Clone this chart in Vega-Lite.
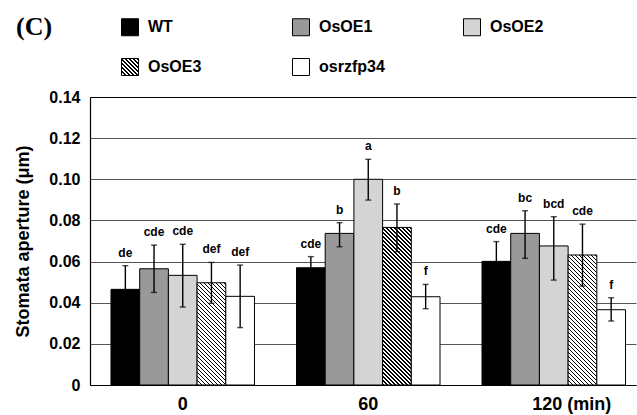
{
  "$schema": "https://vega.github.io/schema/vega-lite/v6.json",
  "width": 546,
  "height": 288,
  "autosize": "none",
  "padding": {"left": 90, "top": 97, "right": 1, "bottom": 30},
  "title": {"text": "(C)", "anchor": "start", "frame": "group", "font": "Liberation Serif", "fontSize": 26, "fontWeight": "bold", "color": "#000", "dx": -74, "offset": -22},
  "params": [
    {"name": "hatch", "value": [
      {"offset":0,"color":"#000"},{"offset":0.009,"color":"#000"},{"offset":0.009,"color":"#fff"},{"offset":0.02,"color":"#fff"},
      {"offset":0.02,"color":"#000"},{"offset":0.029,"color":"#000"},{"offset":0.029,"color":"#fff"},{"offset":0.04,"color":"#fff"},
      {"offset":0.04,"color":"#000"},{"offset":0.049,"color":"#000"},{"offset":0.049,"color":"#fff"},{"offset":0.06,"color":"#fff"},
      {"offset":0.06,"color":"#000"},{"offset":0.069,"color":"#000"},{"offset":0.069,"color":"#fff"},{"offset":0.08,"color":"#fff"},
      {"offset":0.08,"color":"#000"},{"offset":0.089,"color":"#000"},{"offset":0.089,"color":"#fff"},{"offset":0.1,"color":"#fff"},
      {"offset":0.1,"color":"#000"},{"offset":0.109,"color":"#000"},{"offset":0.109,"color":"#fff"},{"offset":0.12,"color":"#fff"},
      {"offset":0.12,"color":"#000"},{"offset":0.129,"color":"#000"},{"offset":0.129,"color":"#fff"},{"offset":0.14,"color":"#fff"},
      {"offset":0.14,"color":"#000"},{"offset":0.149,"color":"#000"},{"offset":0.149,"color":"#fff"},{"offset":0.16,"color":"#fff"},
      {"offset":0.16,"color":"#000"},{"offset":0.169,"color":"#000"},{"offset":0.169,"color":"#fff"},{"offset":0.18,"color":"#fff"},
      {"offset":0.18,"color":"#000"},{"offset":0.189,"color":"#000"},{"offset":0.189,"color":"#fff"},{"offset":0.2,"color":"#fff"},
      {"offset":0.2,"color":"#000"},{"offset":0.209,"color":"#000"},{"offset":0.209,"color":"#fff"},{"offset":0.22,"color":"#fff"},
      {"offset":0.22,"color":"#000"},{"offset":0.229,"color":"#000"},{"offset":0.229,"color":"#fff"},{"offset":0.24,"color":"#fff"},
      {"offset":0.24,"color":"#000"},{"offset":0.249,"color":"#000"},{"offset":0.249,"color":"#fff"},{"offset":0.26,"color":"#fff"},
      {"offset":0.26,"color":"#000"},{"offset":0.269,"color":"#000"},{"offset":0.269,"color":"#fff"},{"offset":0.28,"color":"#fff"},
      {"offset":0.28,"color":"#000"},{"offset":0.289,"color":"#000"},{"offset":0.289,"color":"#fff"},{"offset":0.3,"color":"#fff"},
      {"offset":0.3,"color":"#000"},{"offset":0.309,"color":"#000"},{"offset":0.309,"color":"#fff"},{"offset":0.32,"color":"#fff"},
      {"offset":0.32,"color":"#000"},{"offset":0.329,"color":"#000"},{"offset":0.329,"color":"#fff"},{"offset":0.34,"color":"#fff"},
      {"offset":0.34,"color":"#000"},{"offset":0.349,"color":"#000"},{"offset":0.349,"color":"#fff"},{"offset":0.36,"color":"#fff"},
      {"offset":0.36,"color":"#000"},{"offset":0.369,"color":"#000"},{"offset":0.369,"color":"#fff"},{"offset":0.38,"color":"#fff"},
      {"offset":0.38,"color":"#000"},{"offset":0.389,"color":"#000"},{"offset":0.389,"color":"#fff"},{"offset":0.4,"color":"#fff"},
      {"offset":0.4,"color":"#000"},{"offset":0.409,"color":"#000"},{"offset":0.409,"color":"#fff"},{"offset":0.42,"color":"#fff"},
      {"offset":0.42,"color":"#000"},{"offset":0.429,"color":"#000"},{"offset":0.429,"color":"#fff"},{"offset":0.44,"color":"#fff"},
      {"offset":0.44,"color":"#000"},{"offset":0.449,"color":"#000"},{"offset":0.449,"color":"#fff"},{"offset":0.46,"color":"#fff"},
      {"offset":0.46,"color":"#000"},{"offset":0.469,"color":"#000"},{"offset":0.469,"color":"#fff"},{"offset":0.48,"color":"#fff"},
      {"offset":0.48,"color":"#000"},{"offset":0.489,"color":"#000"},{"offset":0.489,"color":"#fff"},{"offset":0.5,"color":"#fff"},
      {"offset":0.5,"color":"#000"},{"offset":0.509,"color":"#000"},{"offset":0.509,"color":"#fff"},{"offset":0.52,"color":"#fff"},
      {"offset":0.52,"color":"#000"},{"offset":0.529,"color":"#000"},{"offset":0.529,"color":"#fff"},{"offset":0.54,"color":"#fff"},
      {"offset":0.54,"color":"#000"},{"offset":0.549,"color":"#000"},{"offset":0.549,"color":"#fff"},{"offset":0.56,"color":"#fff"},
      {"offset":0.56,"color":"#000"},{"offset":0.569,"color":"#000"},{"offset":0.569,"color":"#fff"},{"offset":0.58,"color":"#fff"},
      {"offset":0.58,"color":"#000"},{"offset":0.589,"color":"#000"},{"offset":0.589,"color":"#fff"},{"offset":0.6,"color":"#fff"},
      {"offset":0.6,"color":"#000"},{"offset":0.609,"color":"#000"},{"offset":0.609,"color":"#fff"},{"offset":0.62,"color":"#fff"},
      {"offset":0.62,"color":"#000"},{"offset":0.629,"color":"#000"},{"offset":0.629,"color":"#fff"},{"offset":0.64,"color":"#fff"},
      {"offset":0.64,"color":"#000"},{"offset":0.649,"color":"#000"},{"offset":0.649,"color":"#fff"},{"offset":0.66,"color":"#fff"},
      {"offset":0.66,"color":"#000"},{"offset":0.669,"color":"#000"},{"offset":0.669,"color":"#fff"},{"offset":0.68,"color":"#fff"},
      {"offset":0.68,"color":"#000"},{"offset":0.689,"color":"#000"},{"offset":0.689,"color":"#fff"},{"offset":0.7,"color":"#fff"},
      {"offset":0.7,"color":"#000"},{"offset":0.709,"color":"#000"},{"offset":0.709,"color":"#fff"},{"offset":0.72,"color":"#fff"},
      {"offset":0.72,"color":"#000"},{"offset":0.729,"color":"#000"},{"offset":0.729,"color":"#fff"},{"offset":0.74,"color":"#fff"},
      {"offset":0.74,"color":"#000"},{"offset":0.749,"color":"#000"},{"offset":0.749,"color":"#fff"},{"offset":0.76,"color":"#fff"},
      {"offset":0.76,"color":"#000"},{"offset":0.769,"color":"#000"},{"offset":0.769,"color":"#fff"},{"offset":0.78,"color":"#fff"},
      {"offset":0.78,"color":"#000"},{"offset":0.789,"color":"#000"},{"offset":0.789,"color":"#fff"},{"offset":0.8,"color":"#fff"},
      {"offset":0.8,"color":"#000"},{"offset":0.809,"color":"#000"},{"offset":0.809,"color":"#fff"},{"offset":0.82,"color":"#fff"},
      {"offset":0.82,"color":"#000"},{"offset":0.829,"color":"#000"},{"offset":0.829,"color":"#fff"},{"offset":0.84,"color":"#fff"},
      {"offset":0.84,"color":"#000"},{"offset":0.849,"color":"#000"},{"offset":0.849,"color":"#fff"},{"offset":0.86,"color":"#fff"},
      {"offset":0.86,"color":"#000"},{"offset":0.869,"color":"#000"},{"offset":0.869,"color":"#fff"},{"offset":0.88,"color":"#fff"},
      {"offset":0.88,"color":"#000"},{"offset":0.889,"color":"#000"},{"offset":0.889,"color":"#fff"},{"offset":0.9,"color":"#fff"},
      {"offset":0.9,"color":"#000"},{"offset":0.909,"color":"#000"},{"offset":0.909,"color":"#fff"},{"offset":0.92,"color":"#fff"},
      {"offset":0.92,"color":"#000"},{"offset":0.929,"color":"#000"},{"offset":0.929,"color":"#fff"},{"offset":0.94,"color":"#fff"},
      {"offset":0.94,"color":"#000"},{"offset":0.949,"color":"#000"},{"offset":0.949,"color":"#fff"},{"offset":1,"color":"#fff"}
    ]}
  ],
  "data": {"values": [
    {"time": "0", "genotype": "WT", "value": 0.0465, "lo": 0.035, "hi": 0.058, "letter": "de"},
    {"time": "0", "genotype": "OsOE1", "value": 0.0565, "lo": 0.045, "hi": 0.068, "letter": "cde"},
    {"time": "0", "genotype": "OsOE2", "value": 0.0533, "lo": 0.0379, "hi": 0.0684, "letter": "cde"},
    {"time": "0", "genotype": "OsOE3", "value": 0.0497, "lo": 0.0397, "hi": 0.0596, "letter": "def"},
    {"time": "0", "genotype": "osrzfp34", "value": 0.0431, "lo": 0.0279, "hi": 0.0583, "letter": "def"},
    {"time": "60", "genotype": "WT", "value": 0.057, "lo": 0.0516, "hi": 0.0624, "letter": "cde"},
    {"time": "60", "genotype": "OsOE1", "value": 0.0737, "lo": 0.0672, "hi": 0.0789, "letter": "b"},
    {"time": "60", "genotype": "OsOE2", "value": 0.1, "lo": 0.0899, "hi": 0.1097, "letter": "a"},
    {"time": "60", "genotype": "OsOE3", "value": 0.0766, "lo": 0.0648, "hi": 0.088, "letter": "b"},
    {"time": "60", "genotype": "osrzfp34", "value": 0.0429, "lo": 0.0371, "hi": 0.0489, "letter": "f"},
    {"time": "120", "genotype": "WT", "value": 0.0601, "lo": 0.0505, "hi": 0.0697, "letter": "cde"},
    {"time": "120", "genotype": "OsOE1", "value": 0.0737, "lo": 0.0616, "hi": 0.0847, "letter": "bc"},
    {"time": "120", "genotype": "OsOE2", "value": 0.0676, "lo": 0.051, "hi": 0.0818, "letter": "bcd"},
    {"time": "120", "genotype": "OsOE3", "value": 0.0632, "lo": 0.0481, "hi": 0.0782, "letter": "cde"},
    {"time": "120", "genotype": "osrzfp34", "value": 0.0366, "lo": 0.0311, "hi": 0.0424, "letter": "f"}
  ]},
  "encoding": {
    "x": {
      "field": "time", "type": "nominal", "sort": ["0", "60", "120"],
      "scale": {"paddingInner": 0.2264, "paddingOuter": 0.0848, "align": 0.667},
      "axis": {
        "title": null, "labelAngle": 0, "ticks": false,
        "labelFont": "Liberation Sans", "labelFontSize": 18, "labelFontWeight": "bold", "labelColor": "#000",
        "labelPadding": 10,
        "labelExpr": "datum.value === '120' ? '120 (min)' : datum.value",
        "labelOffset": {"condition": {"test": "datum.value === '120'", "value": 18}, "value": 0},
        "domainColor": "#000", "domainWidth": 1.2
      }
    },
    "xOffset": {"field": "genotype", "type": "nominal", "sort": ["WT", "OsOE1", "OsOE2", "OsOE3", "osrzfp34"], "scale": {"paddingInner": 0, "paddingOuter": 0}}
  },
  "layer": [
    {
      "mark": {"type": "bar", "strokeWidth": 1},
      "encoding": {
        "y": {
          "field": "value", "type": "quantitative", "stack": null,
          "scale": {"domain": [0, 0.14], "nice": false},
          "axis": {
            "title": "Stomata aperture (μm)",
            "titleFont": "Liberation Sans", "titleFontSize": 18, "titleFontWeight": "bold", "titleColor": "#000", "titlePadding": 16,
            "values": [0, 0.02, 0.04, 0.06, 0.08, 0.1, 0.12, 0.14],
            "labelExpr": "datum.value == 0 ? '0' : format(datum.value, '.2f')",
            "labelFont": "Liberation Sans", "labelFontSize": 16, "labelFontWeight": "bold", "labelColor": "#000",
            "labelPadding": 10, "ticks": false,
            "grid": true,
            "gridColor": {"condition": {"test": "datum.value >= 0.139", "value": "#000"}, "value": "#555"},
            "gridWidth": 1.2,
            "domainColor": "#000", "domainWidth": 1.2
          }
        },
        "fill": {
          "field": "genotype", "type": "nominal",
          "scale": {"domain": ["WT", "OsOE1", "OsOE2", "OsOE3", "osrzfp34"], "range": ["#000000", "#999999", "#d4d4d4", {"expr": "{gradient: 'linear', x1: 0, y1: 1, x2: 5.88, y2: -4.88, stops: hatch}"}, "#ffffff"]},
          "condition": {"test": "datum.genotype === 'OsOE3'", "value": {"expr": "{gradient: 'linear', x1: 0, y1: 1, x2: 200*bandwidth('xOffset')/(pow(bandwidth('xOffset'),2)+pow(height-scale('y',datum.value),2)), y2: 1-200*(height-scale('y',datum.value))/(pow(bandwidth('xOffset'),2)+pow(height-scale('y',datum.value),2)), stops: hatch}"}},
          "legend": {
            "title": null, "orient": "none", "legendX": 31, "legendY": -79,
            "direction": "horizontal", "columns": 3, "gridAlign": "all",
            "columnPadding": 76, "rowPadding": 18, "padding": 0,
            "symbolType": "square", "symbolSize": 289, "symbolStrokeWidth": 1,
            "labelFont": "Liberation Sans", "labelFontSize": 16, "labelFontWeight": "bold", "labelColor": "#000", "labelOffset": 9, "labelLimit": 200
          }
        },
        "stroke": {
          "field": "genotype", "type": "nominal",
          "scale": {"domain": ["WT", "OsOE1", "OsOE2", "OsOE3", "osrzfp34"], "range": ["#000000", "#000000", "#000000", "#000000", "#000000"]},
          "legend": {
            "title": null, "orient": "none", "legendX": 31, "legendY": -79,
            "direction": "horizontal", "columns": 3, "gridAlign": "all",
            "columnPadding": 76, "rowPadding": 18, "padding": 0,
            "symbolType": "square", "symbolSize": 289, "symbolStrokeWidth": 1,
            "labelFont": "Liberation Sans", "labelFontSize": 16, "labelFontWeight": "bold", "labelColor": "#000", "labelOffset": 9, "labelLimit": 200
          }
        }
      }
    },
    {
      "mark": {"type": "rule", "color": "#000", "strokeWidth": 1.4},
      "encoding": {"y": {"field": "lo", "type": "quantitative"}, "y2": {"field": "hi"}}
    },
    {
      "mark": {"type": "tick", "color": "#000", "size": 6, "thickness": 1.4},
      "encoding": {"y": {"field": "lo", "type": "quantitative"}}
    },
    {
      "mark": {"type": "tick", "color": "#000", "size": 6, "thickness": 1.4},
      "encoding": {"y": {"field": "hi", "type": "quantitative"}}
    },
    {
      "mark": {"type": "text", "font": "Liberation Sans", "fontSize": 12, "fontWeight": "bold", "color": "#000", "baseline": "alphabetic", "dy": -9},
      "encoding": {"y": {"field": "hi", "type": "quantitative"}, "text": {"field": "letter"}}
    }
  ],
  "config": {"view": {"stroke": null}}
}
